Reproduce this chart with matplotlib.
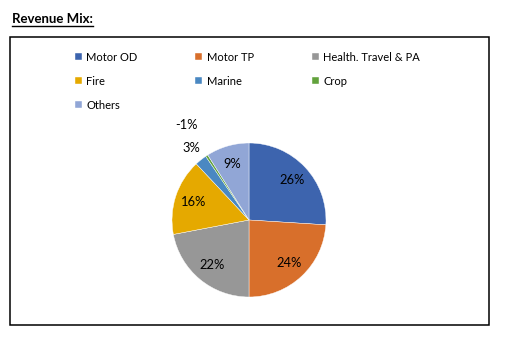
import numpy as np
import matplotlib; matplotlib.use("Agg")
import matplotlib.pyplot as plt
from matplotlib.patches import Rectangle
from matplotlib.lines import Line2D

plt.rcParams["font.family"] = ["Lato", "DejaVu Sans"]

# revenue share by line of business (%), crop is negative in the source -> tiny slice
segments = ["Motor OD", "Motor TP", "Health. Travel & PA", "Fire", "Marine", "Crop", "Others"]
shares = [26, 24, 22, 16, 2.5, 0.5, 9]
labels = ["26%", "24%", "22%", "16%", "3%", "-1%", "9%"]
colors = ["#3d64ae", "#d86f2b", "#979797", "#e5a900", "#4a88c2", "#62a23c", "#91a6d6"]

W, H = 507, 343
fig = plt.figure(figsize=(W/100, H/100), dpi=100)

# frame around the chart
fig.patches.append(Rectangle((10/W, 1 - 325/H), 479/W, 288/H, transform=fig.transFigure,
                             fill=False, lw=1.1, ec="black"))

# title, bold + underlined
t = fig.text(12/W, 1 - 23/H, "Revenue Mix:", fontsize=9.5, fontweight="bold", ha="left", va="baseline")
fig.canvas.draw()
bb = t.get_window_extent(fig.canvas.get_renderer()).transformed(fig.transFigure.inverted())
fig.lines.append(Line2D([bb.x0, bb.x1], [1 - 26/H]*2, transform=fig.transFigure, color="black", lw=1))

cx, cy, r = 249, 220, 77
ax = fig.add_axes([(cx - r)/W, (H - cy - r)/H, 2*r/W, 2*r/H])
wedges, _ = ax.pie(shares, colors=colors, startangle=90, counterclock=False,
                   wedgeprops=dict(lw=0.3, ec="white"))
ax.set_xlim(-1, 1); ax.set_ylim(-1, 1)
ax.set_aspect("equal")

for w, lab, v in zip(wedges, labels, shares):
    ang = np.deg2rad((w.theta1 + w.theta2) / 2)
    if lab == "-1%":
        d = 1.47
    elif v < 5:
        d = 1.2
    else:
        d = 0.76
    ax.text(d*np.cos(ang), d*np.sin(ang), lab, ha="center", va="center", fontsize=9.3, clip_on=False)

order = [0, 3, 6, 1, 4, 2, 5]
fig.legend([wedges[i] for i in order], [segments[i] for i in order],
           loc="upper left", bbox_to_anchor=(69/W, 1 - 46/H), ncol=3, frameon=False,
           fontsize=8, handlelength=0.65, handleheight=0.65, handletextpad=0.4,
           columnspacing=5.2, labelspacing=1.17, borderpad=0)

fig.savefig("out.png", dpi=100)
